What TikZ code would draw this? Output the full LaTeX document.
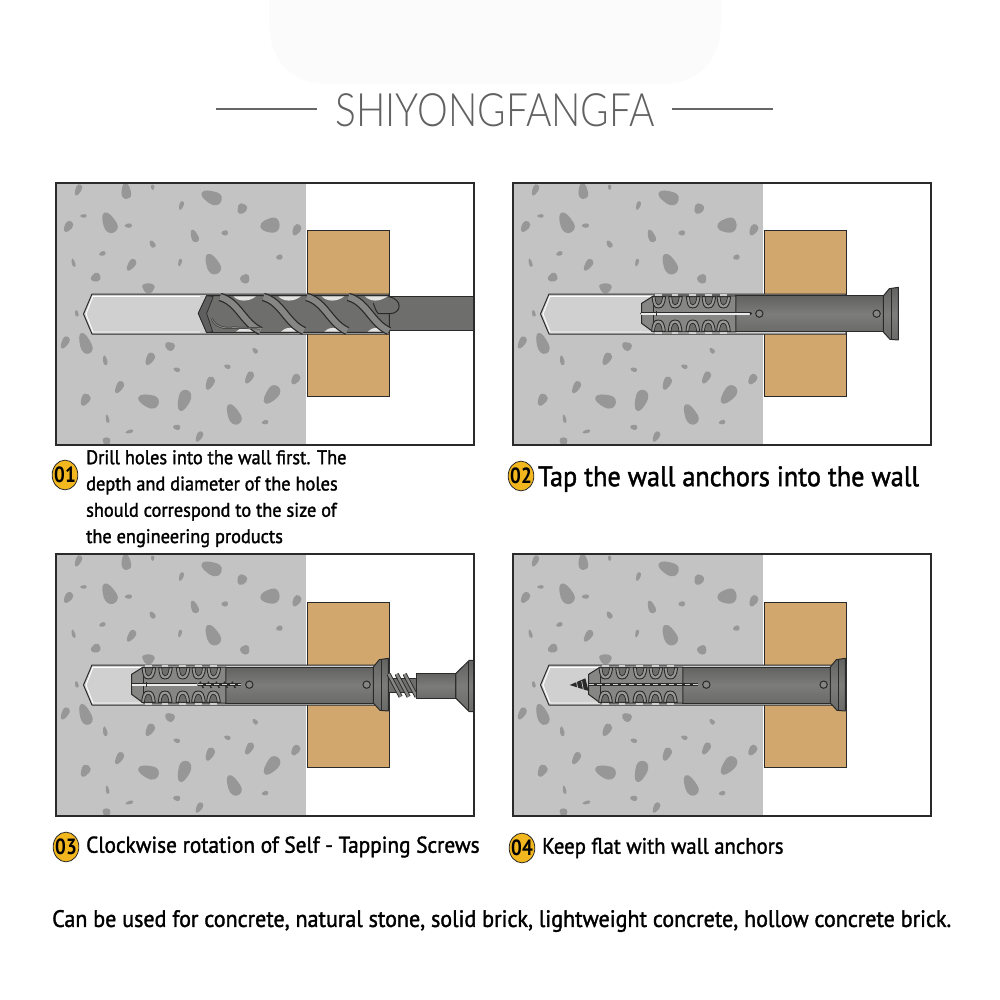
\documentclass[tikz,border=0pt]{standalone}
\usepackage{fontspec}
\setmainfont{PT Sans}
\newfontfamily\titlefont{Lato Light}
\newfontfamily\capfont[FakeBold=1.6]{PT Sans}
\definecolor{wallgray}{HTML}{C3C3C3}
\definecolor{stonegray}{HTML}{979797}
\definecolor{woodtan}{HTML}{D1A76D}
\definecolor{holegray}{HTML}{D0D0D0}
\definecolor{steeldark}{HTML}{2A2A2A}
\definecolor{steelmid}{HTML}{6E6E6C}
\definecolor{steellight}{HTML}{868684}
\definecolor{steeltop}{HTML}{626261}
\definecolor{steelbot}{HTML}{6A6A69}
\definecolor{steelcen}{HTML}{7C7C7B}
\definecolor{badgegold}{HTML}{F2B61E}
\tikzset{
  framebox/.style={draw=steeldark,line width=2.8pt},
  woodbox/.style={fill=woodtan,draw=steeldark,line width=1pt},
  stoneblob/.style={fill=stonegray,draw=none},
  holeshape/.style={fill=holegray,draw=steeldark,line width=1pt,line join=round},
  sleeve/.style={draw=steeldark,line width=1pt,top color=steeltop,bottom color=steelbot,middle color=steelcen,line join=round},
  ribbed/.style={fill=steellight,draw=steeldark,line width=1pt,line join=round},
  lobe/.style={fill=steellight!85!white,draw=steeldark,line width=.9pt,line join=round},
  lobeinner/.style={fill=steelmid,draw=steeldark,line width=.7pt,line join=round},
  stepnum/.style={circle,fill=badgegold,draw=steeldark,line width=.8pt,inner sep=0pt,minimum width=27pt,xscale=.95,yscale=1.1,font=\fontsize{20}{20}\selectfont\bfseries},
  caption/.style={anchor=west,inner sep=0pt,text=black,xscale=.93},
  zoomframe/.style={x=.3333pt,y=-.3333pt},
}
\newcommand{\stonefield}{%
  \foreach \cx/\cy/\ra/\rbb/\ang in {85/45/18/7/65,228/48/24/11/-85,308/37/8/4/90,484/67/32/15/-25,394/92/14/5/70,576/102/16/11/60,100/123/10/4/0,177/143/33/15/-65,235/152/11/5/0,55/155/18/9/55,660/152/29/17/5,740/165/18/9/60,433/183/20/8/-70,524/174/10/6/0,307/207/12/6/-60,157/236/10/5/15,688/247/10/6/10,70/263/13/4/-75,244/270/20/8/55,390/263/12/4/75,487/267/33/15/-65,137/308/15/10/25,584/312/14/11/0,296/340/15/14/90,80/415/10/4/-80,45/503/20/8/60,105/505/33/13/-70,359/514/15/10/-30,165/556/15/5/-80,300/552/20/9/60,615/527/10/5/-50,532/575/10/5/-20,380/584/10/5/-20,598/608/20/8/60,480/625/21/9/65,737/613/17/9/55,208/637/20/8/60,665/660/32/14/50,106/675/19/10/60,295/678/32/15/-20,402/677/33/14/70,550/718/33/14/-65,172/731/13/4/-80,645/742/10/5/10,238/770/12/4/15,380/757/11/6/-10,448/785/17/7/60,170/800/13/9/90}{
    \pgfmathsetmacro{\rb}{1.2*\rbb}
    \path[stoneblob,shift={(\cx,\cy)},rotate=\ang]
      ({-\ra},0) .. controls ({-\ra},{-.7*\rb}) and ({-.3*\ra},{-1.0*\rb}) .. ({.3*\ra},{-1.15*\rb})
      .. controls ({.8*\ra},{-1.25*\rb}) and ({\ra},{-.6*\rb}) .. ({\ra},0)
      .. controls ({\ra},{.7*\rb}) and ({.6*\ra},{1.2*\rb}) .. ({.1*\ra},{1.05*\rb})
      .. controls ({-.4*\ra},{.9*\rb}) and ({-\ra},{.6*\rb}) .. ({-\ra},0) -- cycle;
  }}
\newcommand{\panelbase}[2]{%
  \begin{scope}[shift={(#1,#2)}]
    \fill[wallgray] (56,183) rectangle (306,445);
    \begin{scope}
      \clip (56,183) rectangle (306,445);
      \begin{scope}[shift={(50,175)},zoomframe]
        \stonefield
      \end{scope}
    \end{scope}
    \path[woodbox] (307,231) rectangle (389,396);
    \path[holeshape] (83.5,314) -- (92,294) -- (389,294) -- (389,334) -- (92,334) -- cycle;
    \draw[white,line width=.9pt] (93,296) -- (86,314) -- (93,332) -- (200,332);
    \draw[white,line width=.7pt] (93,296) -- (200,296);
  \end{scope}}
\newcommand{\anchorbody}{%
  \path[sleeve] (678,78) -- (1120,78) -- (1120,186) -- (678,186) -- cycle;
  \path[ribbed] (395,100) -- (430,78) -- (678,78) -- (678,186) -- (430,186) -- (395,160) -- cycle;
  \draw[steeldark,line width=1pt] (430,78) -- (430,186);
  \foreach \lx in {445,495,548,595,640}{
    \path[lobe] (\lx-19,80) .. controls (\lx-16,102) and (\lx-15,114) .. (\lx,114) .. controls (\lx+15,114) and (\lx+19,102) .. (\lx+22,80) -- cycle;
    \path[lobe] (\lx-20,184) .. controls (\lx-18,160) and (\lx-14,150) .. (\lx,150) .. controls (\lx+14,150) and (\lx+18,160) .. (\lx+21,184) -- cycle;
    \path[lobeinner] (\lx-10,80) .. controls (\lx-8,100) and (\lx-5,105) .. (\lx,105) .. controls (\lx+6,105) and (\lx+10,100) .. (\lx+13,80) -- cycle;
    \path[lobeinner] (\lx-12,184) .. controls (\lx-10,168) and (\lx-7,160) .. (\lx,160) .. controls (\lx+7,160) and (\lx+10,168) .. (\lx+12,184) -- cycle;
    \draw[holegray,line width=1.2pt] (\lx-10,75) -- (\lx+10,75);
    \draw[holegray,line width=1.2pt] (\lx-10,189) -- (\lx+10,189);
  }
  \foreach \hx in {748,1100}{
    \draw[steeldark,line width=1pt,fill=steellight] (\hx,131) circle (11);
  }
  \path[sleeve] (1120,78) -- (1138,56) -- (1165,52) -- (1165,210) -- (1140,208) -- (1120,186) -- cycle;
  \draw[steeldark,line width=.9pt] (1145,55) -- (1145,208);
}
\newcommand{\screwtwist}{%
  \foreach \sx in {600,624,648,672,696}{
    \draw[steeldark,line width=1.4pt] (\sx,122) -- (\sx+10,141);
  }
  \draw[steeldark,line width=2.6pt] (595,131) -- (722,131);
  \draw[holegray,line width=.8pt,dash pattern=on 5pt off 3pt] (595,131) -- (722,131);
}
\begin{document}
\begin{tikzpicture}[x=1pt,y=-1pt]
\useasboundingbox (0,0) rectangle (1000,1000);
\fill[white] (0,0) rectangle (1000,1000);
% faint backdrop at the top
\fill[black!1.5] (269,0) -- (269,20) .. controls (269,60) and (290,84) .. (330,84) -- (660,84) .. controls (700,84) and (721,60) .. (721,20) -- (721,0) -- cycle;
% title
\node[inner sep=0pt,text=black!62,xscale=.845] (title) at (495,110) {\titlefont\fontsize{46}{46}\selectfont SHIYONGFANGFA};
\coordinate (tla) at (216,109); \coordinate (tlb) at (317,109);
\coordinate (tra) at (672,109); \coordinate (trb) at (773,109);
\draw[black!60,line width=1.8pt] (tla) -- (tlb);
\draw[black!60,line width=1.8pt] (tra) -- (trb);

% ---------- panel 1
\panelbase{0}{0}
\begin{scope}[shift={(50,175)},zoomframe]
  \fill[steelmid] (1015,365) rectangle (1272,468);
  \draw[steeldark,line width=1pt] (1015,365) -- (1272,365) (1015,468) -- (1272,468);
  \path[draw=steeldark,line width=1pt,fill=steelmid,line join=round] (445,415) -- (470,362) -- (1018,362) -- (1018,472) -- (470,473) -- cycle;
  \foreach \wa in {550,685,815,945}{
    \fill[holegray!60!white] (\wa,364) .. controls (\wa+15,380) and (\wa+45,382) .. (\wa+68,364) -- cycle;
    \fill[holegray!60!white] (\wa+8,470) .. controls (\wa+20,455) and (\wa+50,455) .. (\wa+68,470) -- cycle;
  }
  \foreach \ba in {510,640,770,895}{
    \draw[steeldark,line width=8.5pt] (\ba,366) .. controls (\ba+55,380) and (\ba+70,445) .. (\ba+122,468);
    \draw[steellight,line width=6pt] (\ba,366) .. controls (\ba+55,380) and (\ba+70,445) .. (\ba+122,468);
  }
  \draw[steeldark,line width=1pt,fill=steelmid] (1015,365) .. controls (1060,372) and (1055,416) .. (1020,416) -- (985,416) .. controls (975,405) and (975,395) .. (970,385);
  \path[fill=steeldark!75!white,draw=steeldark,line width=.7pt,line join=round] (445,415) -- (470,362) -- (490,365) -- (470,415) -- (488,470) -- (470,473) -- cycle;
  \draw[steeldark,line width=2pt] (485,430) .. controls (495,455) and (520,462) .. (550,458) -- (630,460);
  \draw[steellight,line width=1pt] (485,430) .. controls (495,455) and (520,462) .. (550,458) -- (630,460);
\end{scope}
\draw[framebox] (56,183) rectangle (474,445);

% ---------- panel 2
\panelbase{457}{0}
\begin{scope}[shift={(510,270)},zoomframe]
  \anchorbody
  \draw[steeldark,line width=3pt,line cap=round] (395,131) -- (722,131);
  \draw[white!92!black,line width=1.7pt,line cap=round] (395,131) -- (718,131);
  \draw[steeldark,line width=1pt] (441,124) -- (441,138);
\end{scope}
\draw[framebox] (513,183) rectangle (931,445);

% ---------- panel 3
\panelbase{0}{371}
\begin{scope}
\clip (56,554) rectangle (474,816);
\begin{scope}[shift={(0,641)},zoomframe]
  \anchorbody
  \draw[steeldark,line width=3pt] (395,131) -- (592,131);
  \draw[white!92!black,line width=1.7pt] (395,131) -- (590,131);
  \draw[steeldark,line width=1pt] (441,124) -- (441,138);
  \screwtwist
  % screw outside the anchor
  \path[fill=steelmid,draw=steeldark,line width=1pt] (1165,112) -- (1252,112) -- (1252,155) -- (1165,155) -- cycle;
  \foreach \tx in {1166,1190,1214}{
    \draw[steeldark,line width=4.2pt] (\tx,99) -- (\tx+36,167);
    \draw[steellight,line width=2.4pt] (\tx,99) -- (\tx+36,167);
  }
  \path[sleeve] (1250,97) -- (1368,97) -- (1368,172) -- (1250,172) -- cycle;
  \path[sleeve] (1368,97) -- (1408,58) -- (1424,58) -- (1424,212) -- (1408,212) -- (1368,172) -- cycle;
  \draw[steeldark,line width=.9pt] (1404,62) -- (1404,208);
\end{scope}
\end{scope}
\draw[framebox] (56,554) rectangle (474,816);

% ---------- panel 4
\panelbase{457}{371}
\begin{scope}[shift={(457,641)},zoomframe]
  \anchorbody
  \draw[steeldark,line width=2.6pt] (395,131) -- (722,131);
  \draw[holegray,line width=.8pt,dash pattern=on 5pt off 3pt] (395,131) -- (722,131);
  \fill[steeldark] (338,132) -- (385,112) -- (395,150) -- cycle;
  \foreach \tx in {358,374}{
    \draw[holegray,line width=.7pt] (\tx,120) -- (\tx+5,146);
  }
\end{scope}
\draw[framebox] (513,554) rectangle (931,816);

% ---------- captions
\node[stepnum] (b1) at (65,475) {01};
\node[caption,font=\capfont\fontsize{19.7}{26.3}\selectfont,align=left,anchor=north west] (t1) at (86,450) {Drill holes into the wall first. The\\depth and diameter of the holes\\should correspond to the size of\\the engineering products};
\node[stepnum] (b2) at (521,476) {02};
\node[caption,font=\capfont\fontsize{28.2}{28.2}\selectfont] (t2) at (538,479) {Tap the wall anchors into the wall};
\node[stepnum] (b3) at (66,847) {03};
\node[caption,font=\capfont\fontsize{22.9}{22.9}\selectfont] (t3) at (86,847) {Clockwise rotation of Self - Tapping Screws};
\node[stepnum] (b4) at (522,848) {04};
\node[caption,font=\capfont\fontsize{22.3}{22.3}\selectfont] (t4) at (542,848) {Keep flat with wall anchors};
\node[caption,font=\capfont\fontsize{23.7}{23.7}\selectfont] (t5) at (52,921) {Can be used for concrete, natural stone, solid brick, lightweight concrete, hollow concrete brick.};
\end{tikzpicture}
\end{document}
